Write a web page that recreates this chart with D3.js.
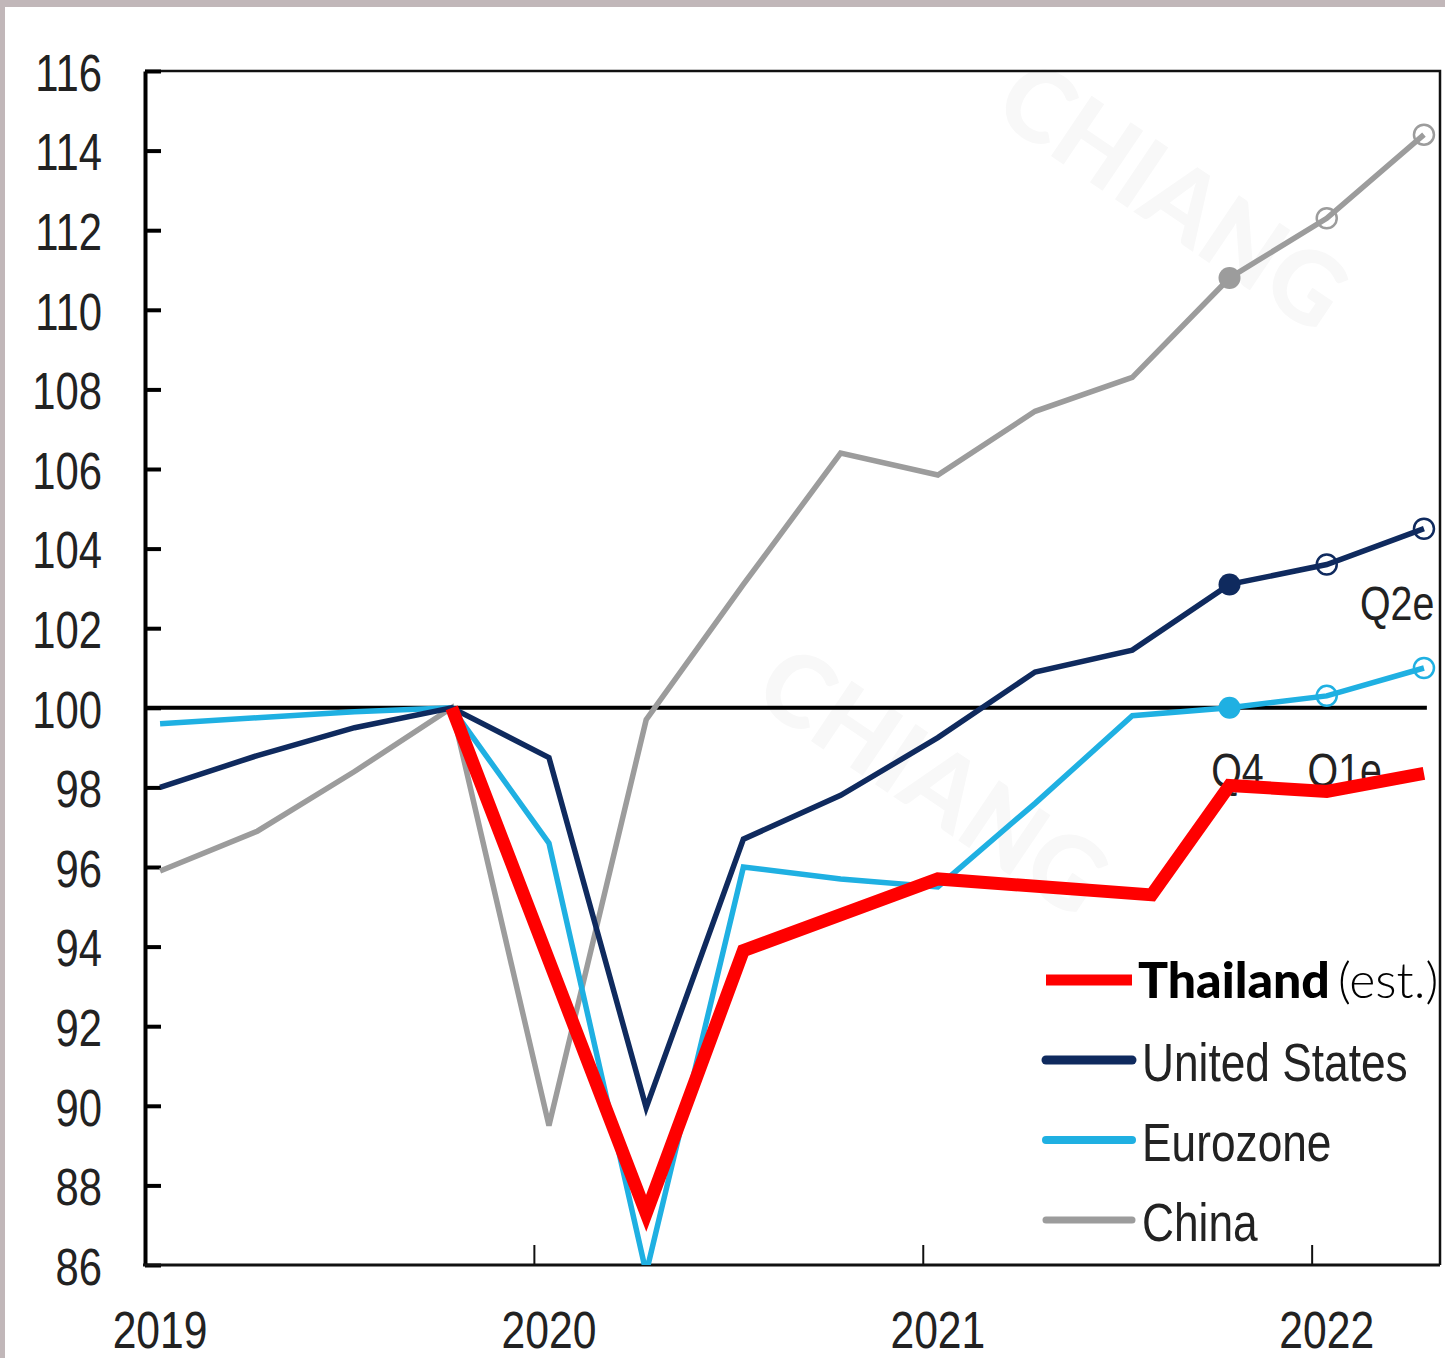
<!DOCTYPE html>
<meta charset="utf-8">
<title>GDP index</title>
<style>
  html, body { margin: 0; background: #fff; }
  svg { display: block; }
  .lbl { font-family: "Liberation Sans", Arial, sans-serif; fill: #222; }
</style>
<body>
<script src="https://cdn.jsdelivr.net/npm/d3@7"></script>
<script>

// quarters 2019Q1 .. 2022Q2 (index 0..13)
var quarters = ["2019Q1","2019Q2","2019Q3","2019Q4","2020Q1","2020Q2","2020Q3","2020Q4",
                "2021Q1","2021Q2","2021Q3","2021Q4","2022Q1e","2022Q2e"];
var china    = [95.9, 96.9, 98.4, 100, 89.5, 99.7, 103.1, 106.4, 105.85, 107.45, 108.3, 110.8, 112.3, 114.4];
var us       = [98.0, 98.8, 99.5, 100, 98.75, 89.95, 96.7, 97.8, 99.25, 100.9, 101.45, 103.1, 103.6, 104.5];
var euro     = [99.6, 99.75, 99.9, 100, 96.6, 85.8, 96.0, 95.7, 95.5, 97.6, 99.8, 100.0, 100.3, 101.0];
// Thailand (est.) drawn on top, positions on the same quarter index
var thaiIdx  = [3, 5, 6, 8, 10.2, 11, 12, 13];
var thai     = [100, 87.3, 93.9, 95.7, 95.3, 98.05, 97.9, 98.35];

var yearLabels = ["2019","2020","2021","2022"];
var yearLabelIdx = [0, 4, 8, 12];
var yearTickIdx = [3.85, 7.85, 11.85];
var yTicks = d3.range(86, 117, 2);
var qLabels = [{t:"Q4", i:11, v:98.0}, {t:"Q1e", i:12, v:98.0}, {t:"Q2e", i:13, v:102.2}];

var W = 1445, H = 1358;
var pL = 145, pR = 1440, pT = 71, pB = 1265;
var SX = 0.82;   // narrow face look

var x = d3.scaleLinear().domain([-0.155, 13.165]).range([pL, pR]);
var y = d3.scaleLinear().domain([86, 116]).range([pB, pT]);

var svg = d3.select("body").append("svg").attr("width", W).attr("height", H);

// narrow text helper
function ntext(parent, tx, ty, str, size, anchor) {
  return parent.append("text").attr("class", "lbl")
    .attr("transform", "translate(" + tx + "," + ty + ") scale(" + SX + ",1)")
    .attr("font-size", size).attr("text-anchor", anchor || "start")
    .text(str);
}

// frame strips at the edges of the screenshot
svg.append("rect").attr("x", 0).attr("y", 0).attr("width", W).attr("height", 7).attr("fill", "#c1b7b9");
svg.append("rect").attr("x", 0).attr("y", 0).attr("width", 5).attr("height", H).attr("fill", "#c1b7b9");

// faint watermark
var wm = svg.append("g").attr("fill", "#f8f8f8").attr("font-family", "Lato, sans-serif").attr("font-weight", 900);
wm.append("text").attr("transform", "translate(990,115) rotate(34)").attr("font-size", 100).text("CHIANG");
wm.append("text").attr("transform", "translate(750,700) rotate(34)").attr("font-size", 100).text("CHIANG");

svg.append("clipPath").attr("id", "plot")
  .append("rect").attr("x", pL).attr("y", pT).attr("width", pR - pL).attr("height", pB - pT);

// plot frame (top + right)
svg.append("path")
  .attr("d", "M" + pL + "," + pT + "H" + pR + "V" + pB)
  .attr("fill", "none").attr("stroke", "#111").attr("stroke-width", 2.5);

// y axis
var ya = svg.append("g").attr("transform", "translate(" + pL + ",0)")
  .call(d3.axisLeft(y).tickValues(yTicks).tickSizeInner(-16).tickSizeOuter(0).tickPadding(43));
ya.select(".domain").attr("stroke", "#000").attr("stroke-width", 4);
ya.selectAll(".tick line").attr("stroke", "#000").attr("stroke-width", 4);
ya.selectAll(".tick text")
  .attr("font-family", "Liberation Sans, Arial, sans-serif").attr("fill", "#222")
  .attr("font-size", 51).attr("dy", "0.38em")
  .attr("x", -43 / SX).attr("transform", "scale(" + SX + ",1)");

// x axis
svg.append("line").attr("x1", pL - 2).attr("x2", pR).attr("y1", pB).attr("y2", pB)
  .attr("stroke", "#111").attr("stroke-width", 3);
svg.selectAll(".xtick").data(yearTickIdx).enter().append("line")
  .attr("x1", function(d) { return x(d); }).attr("x2", function(d) { return x(d); })
  .attr("y1", pB).attr("y2", pB - 20)
  .attr("stroke", "#111").attr("stroke-width", 2);
yearLabels.forEach(function(d, i) {
  ntext(svg, x(yearLabelIdx[i]), 1348, d, 52, "middle");
});

// quarter labels
qLabels.forEach(function(d) {
  var off = d.t === "Q2e" ? -64 : (d.t === "Q4" ? 8 : 18);
  ntext(svg, x(d.i) + off, y(d.v), d.t, 48, d.t === "Q2e" ? "start" : "middle");
});

// 100 line
svg.append("line").attr("x1", pL).attr("x2", x(13.03)).attr("y1", y(100)).attr("y2", y(100))
  .attr("stroke", "#000").attr("stroke-width", 4);

var line = d3.line().x(function(d) { return x(d[0]); }).y(function(d) { return y(d[1]); });
var g = svg.append("g").attr("clip-path", "url(#plot)");

var series = [
  {name: "China", vals: china, color: "#9c9c9c"},
  {name: "Eurozone", vals: euro, color: "#1fb0e2"},
  {name: "United States", vals: us, color: "#0f2a5e"}
];

series.forEach(function(s) {
  var pts = s.vals.map(function(v, i) { return [i, v]; });
  g.append("path").datum(pts).attr("d", line)
    .attr("fill", "none").attr("stroke", s.color).attr("stroke-width", 5.5)
    .attr("stroke-linejoin", "miter");
  // 2021Q4 actual (filled), 2022 estimates (open)
  g.append("circle").attr("cx", x(11)).attr("cy", y(s.vals[11])).attr("r", 11).attr("fill", s.color);
  [12, 13].forEach(function(i) {
    g.append("circle").attr("cx", x(i)).attr("cy", y(s.vals[i])).attr("r", 10)
      .attr("fill", "none").attr("stroke", s.color).attr("stroke-width", 2.5);
  });
});

// Thailand
g.append("path").datum(thai.map(function(v, i) { return [thaiIdx[i], v]; }))
  .attr("d", line).attr("fill", "none").attr("stroke", "#ff0000")
  .attr("stroke-width", 13).attr("stroke-linejoin", "miter").attr("stroke-miterlimit", 10);

// legend
var legend = [
  {name: "Thailand", color: "#ff0000", w: 11, y: 980},
  {name: "United States", color: "#0f2a5e", w: 9, y: 1060},
  {name: "Eurozone", color: "#1fb0e2", w: 8, y: 1140},
  {name: "China", color: "#9c9c9c", w: 7, y: 1220}
];
legend.forEach(function(d, i) {
  svg.append("line").attr("x1", 1046).attr("x2", 1132).attr("y1", d.y).attr("y2", d.y)
    .attr("stroke", d.color).attr("stroke-width", d.w)
    .attr("stroke-linecap", i === 0 ? "butt" : "round");
  if (i === 0) {
    var t = svg.append("text").attr("x", 1138).attr("y", d.y + 18)
      .attr("font-family", "Lato, sans-serif").attr("font-size", 50).attr("fill", "#000");
    t.append("tspan").attr("font-weight", 900).text("Thailand");
    t.append("tspan").attr("font-weight", 300).attr("dx", 8).text("(est.)");
  } else {
    ntext(svg, 1142, d.y + 21, d.name, 54);
  }
});

</script>
</body>
